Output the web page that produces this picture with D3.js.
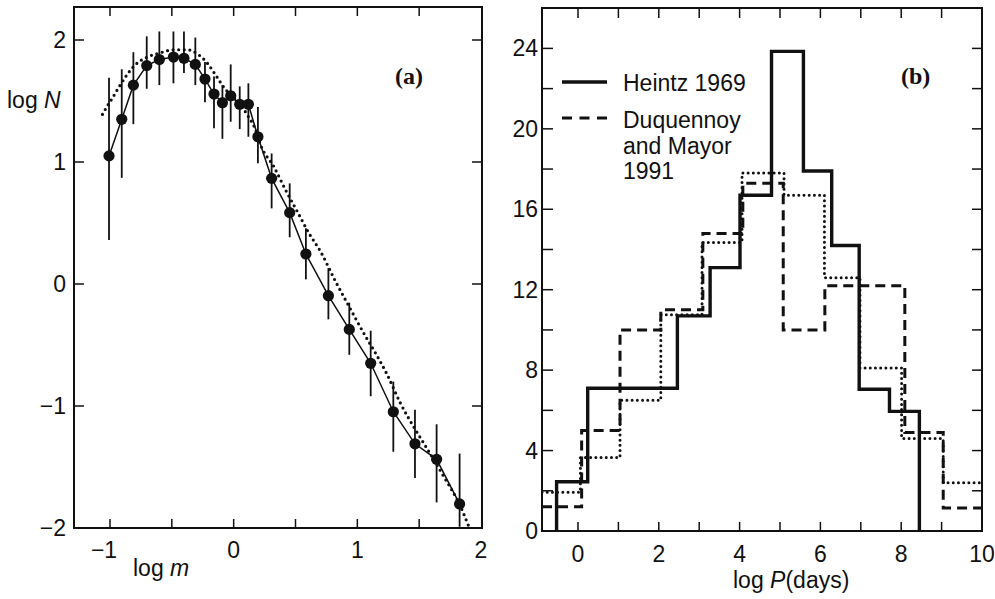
<!DOCTYPE html>
<html>
<head>
<meta charset="utf-8">
<script src="https://cdn.jsdelivr.net/npm/d3@7"></script>
<style>
  html, body { margin: 0; padding: 0; background: #fff; }
  svg { display: block; }
  .lab { font-family: "Liberation Sans", Arial, sans-serif; font-size: 23px; fill: #111; }
  .panel { font-family: "Liberation Serif", "DejaVu Serif", serif; font-weight: bold; font-size: 24px; fill: #111; }
</style>
</head>
<body>
<svg id="chart" width="995" height="599"></svg>
<script>
// ---- Panel (a): mass function, log N against log m ----
const massLogM = [-1.008, -0.905, -0.811, -0.703, -0.601, -0.487, -0.402, -0.31, -0.232, -0.159,
                  -0.091, -0.024, 0.049, 0.119, 0.196, 0.307, 0.453, 0.584, 0.766, 0.935,
                  1.108, 1.291, 1.466, 1.641, 1.827];
const massLogN = [1.05, 1.35, 1.63, 1.79, 1.84, 1.86, 1.85, 1.80, 1.68, 1.557,
                  1.486, 1.543, 1.473, 1.473, 1.207, 0.866, 0.585, 0.246, -0.096, -0.372,
                  -0.65, -1.047, -1.31, -1.437, -1.803];
const errLow  = [0.36, 0.87, 1.31, 1.60, 1.63, 1.645, 1.73, 1.63, 1.49, 1.276,
                 1.19, 1.33, 1.27, 1.207, 0.99, 0.62, 0.383, 0.038, -0.29, -0.58,
                 -0.92, -1.375, -1.59, -1.79, -1.99];
const errHigh = [1.69, 1.76, 1.90, 2.03, 2.07, 2.07, 2.07, 2.02, 1.82, 1.70,
                 1.63, 1.80, 1.62, 1.645, 1.45, 1.07, 0.825, 0.457, 0.13, -0.153,
                 -0.383, -0.80, -1.03, -1.15, -1.39];
// smooth comparison curve (dotted)
const curveLogM = [-1.061, -1.027, -0.989, -0.924, -0.859, -0.792, -0.698, -0.590, -0.483, -0.374,
                   -0.281, -0.213, -0.146, -0.078, -0.011, 0.057, 0.111, 0.178, 0.218, 0.326,
                   0.42, 0.515, 0.609, 0.703, 0.825, 0.919, 1.067, 1.148, 1.243, 1.35,
                   1.471, 1.552, 1.70, 1.835, 1.902];
const curveLogN = [1.39, 1.45, 1.51, 1.62, 1.72, 1.80, 1.86, 1.896, 1.92, 1.92,
                   1.877, 1.81, 1.713, 1.61, 1.535, 1.467, 1.385, 1.262, 1.14, 0.96,
                   0.77, 0.593, 0.416, 0.265, 0.019, -0.158, -0.43, -0.568, -0.746, -0.98,
                   -1.197, -1.33, -1.58, -1.825, -1.99];
const aXTicks = [-1, 0, 1, 2];
const aYTicks = [-2, -1, 0, 1, 2];

// ---- Panel (b): period distributions, log P (days) ----
const heintzEdges  = [-0.53, 0.24, 2.46, 3.27, 4.01, 4.79, 5.58, 6.28, 6.96, 7.71, 8.45];
const heintzCounts = [2.45, 7.1, 10.7, 13.1, 16.7, 23.85, 17.9, 14.2, 7.05, 5.95];
const dmEdges  = [-0.89, 0.09, 1.04, 2.05, 3.09, 4.08, 5.08, 6.11, 8.09, 9.04, 10];
const dmCounts = [1.2, 5.0, 10.0, 11.0, 14.8, 17.3, 10.0, 12.2, 4.9, 1.15];
const dotEdges  = [-0.89, 0.06, 1.04, 2.05, 3.07, 4.06, 5.1, 6.1, 6.98, 8.01, 9.04, 10];
const dotCounts = [1.93, 3.65, 6.5, 10.75, 14.35, 17.8, 16.7, 12.6, 8.1, 4.6, 2.4];
const bXTicks = [0, 2, 4, 6, 8, 10];
const bYTicks = [0, 4, 8, 12, 16, 20, 24];
const legendLabels = ["Heintz 1969", ["Duquennoy", "and Mayor", "1991"]];

const svg = d3.select("#chart");
const ink = "#111";

// ---------------- Panel (a) ----------------
const A = { left: 74, right: 482, top: 7, bottom: 528 };
const xa = d3.scaleLinear().domain([-1, 2]).range([110, 481]);
const ya = d3.scaleLinear().domain([-2, 2]).range([528, 40]);
const ga = svg.append("g");

// frame
ga.append("rect").attr("x", A.left).attr("y", A.top)
  .attr("width", A.right - A.left).attr("height", A.bottom - A.top)
  .attr("fill", "none").attr("stroke", ink).attr("stroke-width", 2);

// inward ticks
const aHalf = d3.range(-1, 2.01, 0.5).filter(v => xa(v) < A.right - 2);
aHalf.forEach(v => {
  ga.append("line").attr("x1", xa(v)).attr("x2", xa(v)).attr("y1", A.bottom).attr("y2", A.bottom - 9)
    .attr("stroke", ink).attr("stroke-width", 1.5);
  ga.append("line").attr("x1", xa(v)).attr("x2", xa(v)).attr("y1", A.top).attr("y2", A.top + 9)
    .attr("stroke", ink).attr("stroke-width", 1.5);
});
aYTicks.filter(v => ya(v) < A.bottom - 2).forEach(v => {
  ga.append("line").attr("x1", A.left).attr("x2", A.left + 10).attr("y1", ya(v)).attr("y2", ya(v))
    .attr("stroke", ink).attr("stroke-width", 1.5);
  ga.append("line").attr("x1", A.right).attr("x2", A.right - 10).attr("y1", ya(v)).attr("y2", ya(v))
    .attr("stroke", ink).attr("stroke-width", 1.5);
});

// tick labels
const minus = v => (v < 0 ? "\u2212" + Math.abs(v) : String(v));
aXTicks.forEach(v => {
  ga.append("text").attr("class", "lab").attr("x", xa(v) - (v < 0 ? 6 : 0)).attr("y", 558)
    .attr("text-anchor", "middle").text(minus(v));
});
aYTicks.forEach(v => {
  ga.append("text").attr("class", "lab").attr("x", 66).attr("y", ya(v) + 8)
    .attr("text-anchor", "end").text(minus(v));
});

// axis titles
const tN = ga.append("text").attr("class", "lab").attr("x", 7).attr("y", 108);
tN.append("tspan").text("log ");
tN.append("tspan").attr("font-style", "italic").text("N");
const tM = ga.append("text").attr("class", "lab").attr("x", 133).attr("y", 576);
tM.append("tspan").text("log ");
tM.append("tspan").attr("font-style", "italic").text("m");

ga.append("text").attr("class", "panel").attr("x", 395).attr("y", 84).text("(a)");

// dotted comparison curve
const curvePts = curveLogM.map((m, i) => [m, curveLogN[i]]);
ga.append("path")
  .attr("d", d3.line().x(d => xa(d[0])).y(d => ya(d[1])).curve(d3.curveMonotoneX)(curvePts))
  .attr("fill", "none").attr("stroke", ink).attr("stroke-width", 3.2)
  .attr("stroke-linecap", "round").attr("stroke-dasharray", "0 5.6");

// error bars
massLogM.forEach((m, i) => {
  ga.append("line").attr("x1", xa(m)).attr("x2", xa(m))
    .attr("y1", ya(errLow[i])).attr("y2", ya(errHigh[i]))
    .attr("stroke", ink).attr("stroke-width", 1.8);
});

// connecting line and points
const massPts = massLogM.map((m, i) => [m, massLogN[i]]);
ga.append("path")
  .attr("d", d3.line().x(d => xa(d[0])).y(d => ya(d[1]))(massPts))
  .attr("fill", "none").attr("stroke", ink).attr("stroke-width", 1.5);
ga.selectAll("circle.pt").data(massPts).join("circle")
  .attr("class", "pt").attr("cx", d => xa(d[0])).attr("cy", d => ya(d[1]))
  .attr("r", 5.6).attr("fill", ink);

// ---------------- Panel (b) ----------------
const B = { left: 542, right: 982, top: 8, bottom: 531 };
const xb = d3.scaleLinear().domain([0, 10]).range([578, 982]);
const yb = d3.scaleLinear().domain([0, 24]).range([531, 48.4]);
const gb = svg.append("g");

// clip the histograms to the frame
svg.append("defs").append("clipPath").attr("id", "clipB")
  .append("rect").attr("x", B.left).attr("y", B.top)
  .attr("width", B.right - B.left).attr("height", B.bottom - B.top);

gb.append("rect").attr("x", B.left).attr("y", B.top)
  .attr("width", B.right - B.left).attr("height", B.bottom - B.top)
  .attr("fill", "none").attr("stroke", ink).attr("stroke-width", 2);

d3.range(0, 10, 1).forEach(v => {
  gb.append("line").attr("x1", xb(v)).attr("x2", xb(v)).attr("y1", B.bottom).attr("y2", B.bottom - 9)
    .attr("stroke", ink).attr("stroke-width", 1.5);
  gb.append("line").attr("x1", xb(v)).attr("x2", xb(v)).attr("y1", B.top).attr("y2", B.top + 10)
    .attr("stroke", ink).attr("stroke-width", 1.5);
});
d3.range(2, 26, 2).forEach(v => {
  gb.append("line").attr("x1", B.left).attr("x2", B.left + 11).attr("y1", yb(v)).attr("y2", yb(v))
    .attr("stroke", ink).attr("stroke-width", 1.5);
  gb.append("line").attr("x1", B.right).attr("x2", B.right - 10).attr("y1", yb(v)).attr("y2", yb(v))
    .attr("stroke", ink).attr("stroke-width", 1.5);
});

bXTicks.forEach(v => {
  gb.append("text").attr("class", "lab").attr("x", xb(v)).attr("y", 562)
    .attr("text-anchor", "middle").text(v);
});
bYTicks.forEach(v => {
  gb.append("text").attr("class", "lab").attr("x", 538).attr("y", yb(v) + 8)
    .attr("text-anchor", "end").text(v);
});

const tP = gb.append("text").attr("class", "lab").attr("x", 733).attr("y", 588);
tP.append("tspan").text("log ");
tP.append("tspan").attr("font-style", "italic").text("P");
tP.append("tspan").text("(days)");

gb.append("text").attr("class", "panel").attr("x", 901).attr("y", 84).text("(b)");

// step outline of a histogram from bin edges and counts
function stepPoints(edges, counts, closed) {
  const pts = [];
  if (closed) pts.push([edges[0], 0]);
  counts.forEach((c, i) => pts.push([edges[i], c]));
  pts.push([edges[edges.length - 1], counts[counts.length - 1]]);
  if (closed) pts.push([edges[edges.length - 1], 0]);
  return pts;
}
const stepLine = d3.line().x(d => xb(d[0])).y(d => yb(d[1])).curve(d3.curveStepAfter);
const hist = gb.append("g").attr("clip-path", "url(#clipB)");

hist.append("path").attr("d", stepLine(stepPoints(dotEdges, dotCounts, false)))
  .attr("fill", "none").attr("stroke", ink).attr("stroke-width", 3)
  .attr("stroke-linecap", "round").attr("stroke-dasharray", "0 5.2");
hist.append("path").attr("d", stepLine(stepPoints(dmEdges, dmCounts, false)))
  .attr("fill", "none").attr("stroke", ink).attr("stroke-width", 3)
  .attr("stroke-dasharray", "10 6");
hist.append("path").attr("d", stepLine(stepPoints(heintzEdges, heintzCounts, true)))
  .attr("fill", "none").attr("stroke", ink).attr("stroke-width", 3.4)
  .attr("stroke-linejoin", "miter");

// legend
const lg = gb.append("g");
lg.append("line").attr("x1", 562).attr("x2", 607).attr("y1", 82).attr("y2", 82)
  .attr("stroke", ink).attr("stroke-width", 3.4);
lg.append("text").attr("class", "lab").attr("x", 623).attr("y", 91).text(legendLabels[0]);
lg.append("line").attr("x1", 562).attr("x2", 607).attr("y1", 118).attr("y2", 118)
  .attr("stroke", ink).attr("stroke-width", 3).attr("stroke-dasharray", "10 7.5");
legendLabels[1].forEach((s, i) => {
  lg.append("text").attr("class", "lab").attr("x", 623).attr("y", 128 + i * 25.5).text(s);
});
</script>
</body>
</html>
